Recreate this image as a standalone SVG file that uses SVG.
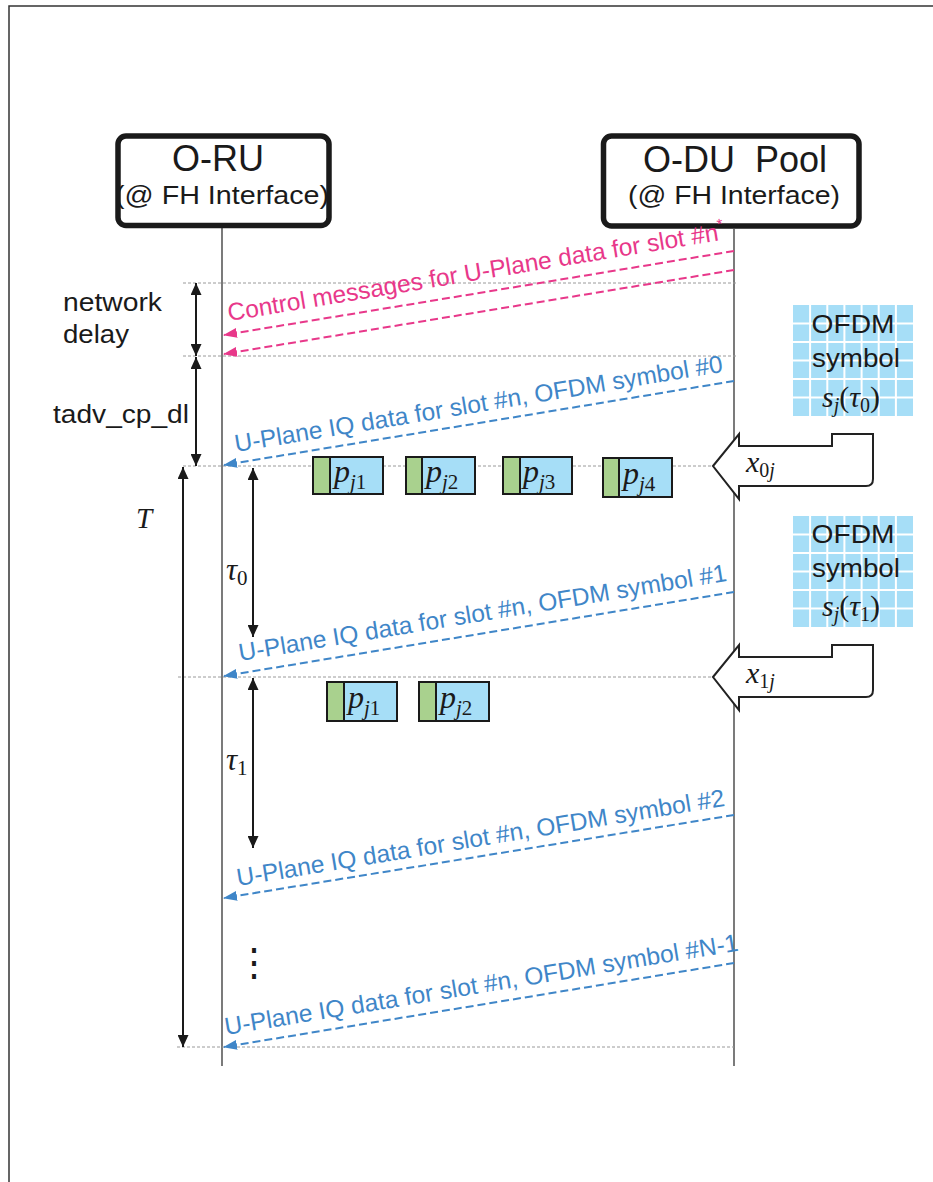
<svg xmlns="http://www.w3.org/2000/svg" width="933" height="1182" viewBox="0 0 933 1182">
<defs>
<style>
.frame{fill:none;stroke:#333;stroke-width:1.5}
.box{fill:#fff;stroke:#1a1a1a;stroke-width:5.5}
.life{stroke:#333;stroke-width:1.3;fill:none}
.grid{stroke:#9a9a9a;stroke-width:1;stroke-dasharray:3 2;fill:none}
.dbl{stroke:#1a1a1a;stroke-width:2;fill:none;marker-start:url(#blk);marker-end:url(#blk)}
.pink{stroke:#E8388A;stroke-width:2;stroke-dasharray:8 4;fill:none;marker-end:url(#pk)}
.blue{stroke:#3F86C8;stroke-width:2;stroke-dasharray:8 4;fill:none;marker-end:url(#bl)}
.sans{font-family:"Liberation Sans",Arial,sans-serif;fill:#1a1a1a}
.math{font-family:"Liberation Serif","Times New Roman",serif;fill:#1a1a1a}
.it{font-style:italic}
.ptext{font-family:"Liberation Sans",Arial,sans-serif;font-size:24.5px;fill:#E8388A}
.btext{font-family:"Liberation Sans",Arial,sans-serif;font-size:24.5px;fill:#3F86C8}
.gr{fill:#A9D18E;stroke:none}
.bk{fill:#A6DEF7;stroke:none}
.pb{fill:none;stroke:#1a1a1a;stroke-width:2}
.ofdm{fill:#A6DEF7}
.gl{stroke:#fff;stroke-width:2;fill:none}
.barrow{fill:#fff;stroke:#222;stroke-width:2;stroke-linejoin:miter}
</style>
<marker id="blk" viewBox="0 0 12 11" refX="12" refY="5.5" markerWidth="12" markerHeight="11" markerUnits="userSpaceOnUse" orient="auto-start-reverse"><path d="M0,0 L12,5.5 L0,11 z" fill="#1a1a1a"/></marker>
<marker id="pk" viewBox="0 0 14 10" refX="13" refY="5" markerWidth="14" markerHeight="10" markerUnits="userSpaceOnUse" orient="auto"><path d="M0,0 L14,5 L0,10 z" fill="#E8388A"/></marker>
<marker id="bl" viewBox="0 0 14 10" refX="13" refY="5" markerWidth="14" markerHeight="10" markerUnits="userSpaceOnUse" orient="auto"><path d="M0,0 L14,5 L0,10 z" fill="#3F86C8"/></marker>
</defs>

<path class="frame" d="M9,1182 L9,6 L933,6"/>

<g id="lifelines">
<line class="life" x1="222" y1="228" x2="222" y2="1066"/>
<line class="life" x1="734" y1="229" x2="734" y2="1066"/>
</g>

<g id="guides">
<line class="grid" x1="183" y1="283" x2="738" y2="283"/>
<line class="grid" x1="183" y1="356" x2="738" y2="356"/>
<line class="grid" x1="183" y1="466" x2="712" y2="466"/>
<line class="grid" x1="178" y1="677" x2="712" y2="677"/>
<line class="grid" x1="177" y1="1047" x2="734" y2="1047"/>
</g>

<g id="oru">
<rect class="box" x="118" y="136" width="211" height="89.5" rx="8"/>
<text class="sans" x="218" y="171" font-size="36" text-anchor="middle">O-RU</text>
<text class="sans" x="222" y="204" font-size="26" text-anchor="middle" textLength="214" lengthAdjust="spacingAndGlyphs">(@ FH Interface)</text>
</g>

<g id="odu">
<rect class="box" x="603.5" y="136" width="255.5" height="90" rx="8"/>
<text class="sans" x="735" y="172" font-size="36" text-anchor="middle" xml:space="preserve">O-DU  Pool</text>
<text class="sans" x="734" y="204" font-size="26" text-anchor="middle" textLength="212" lengthAdjust="spacingAndGlyphs">(@ FH Interface)</text>
</g>

<g id="intervals">
<line class="dbl" x1="196" y1="283" x2="196" y2="356"/>
<line class="dbl" x1="196" y1="357" x2="196" y2="466"/>
<line class="dbl" x1="183" y1="467" x2="183" y2="1047"/>
<line class="dbl" x1="253" y1="468" x2="253" y2="637"/>
<line class="dbl" x1="253" y1="678" x2="253" y2="848"/>
<text class="sans" x="63" y="311" font-size="26" textLength="99" lengthAdjust="spacingAndGlyphs">network</text>
<text class="sans" x="63" y="343" font-size="26" textLength="66" lengthAdjust="spacingAndGlyphs">delay</text>
<text class="sans" x="53" y="423" font-size="26" textLength="136" lengthAdjust="spacingAndGlyphs">tadv_cp_dl</text>
<text class="math it" x="136" y="528" font-size="29">T</text>
<text class="math" x="226" y="580" font-size="31"><tspan class="it">τ</tspan><tspan font-size="21" dy="5">0</tspan></text>
<text class="math" x="226" y="770" font-size="31"><tspan class="it">τ</tspan><tspan font-size="21" dy="5">1</tspan></text>
<text class="sans" x="254" y="976" font-size="38" text-anchor="middle" font-family="DejaVu Sans">⋮</text>
</g>

<g id="connectors">
<line class="pink" x1="734" y1="251" x2="224" y2="335"/>
<line class="pink" x1="734" y1="270" x2="224" y2="354"/>
<text class="ptext" transform="translate(229,321) rotate(-9.35)">Control messages for U-Plane data for slot #n<tspan font-size="15" dy="-11">*</tspan></text>
<line class="blue" x1="734" y1="381" x2="224" y2="465"/>
<text class="btext" transform="translate(236,452) rotate(-9.35)">U-Plane IQ data for slot #n, OFDM symbol #0</text>
<line class="blue" x1="734" y1="592" x2="224" y2="676"/>
<text class="btext" transform="translate(240,661) rotate(-9.35)">U-Plane IQ data for slot #n, OFDM symbol #1</text>
<line class="blue" x1="734" y1="815" x2="224" y2="898"/>
<text class="btext" transform="translate(238,886) rotate(-9.35)">U-Plane IQ data for slot #n, OFDM symbol #2</text>
<line class="blue" x1="734" y1="963" x2="224" y2="1047"/>
<text class="btext" transform="translate(226,1035) rotate(-9.35)">U-Plane IQ data for slot #n, OFDM symbol #N-1</text>
</g>

<g id="ofdm0">
<rect class="ofdm" x="793" y="305" width="120" height="111"/>
<path class="gl" d="M810.1,305V416M827.3,305V416M844.4,305V416M861.6,305V416M878.7,305V416M895.9,305V416M793,323.5H913M793,342H913M793,360.5H913M793,379H913M793,397.5H913"/>
<text class="sans" x="853" y="333" font-size="26" text-anchor="middle" textLength="83" lengthAdjust="spacingAndGlyphs">OFDM</text>
<text class="sans" x="856" y="367" font-size="26" text-anchor="middle" textLength="88" lengthAdjust="spacingAndGlyphs">symbol</text>
<text class="math" x="851" y="407" font-size="30" text-anchor="middle"><tspan class="it">s</tspan><tspan class="it" font-size="20" dy="5">j</tspan><tspan dy="-5">(</tspan><tspan class="it">τ</tspan><tspan font-size="20" dy="5">0</tspan><tspan dy="-5">)</tspan></text>
</g>

<g id="ofdm1">
<rect class="ofdm" x="793" y="516" width="120" height="111"/>
<path class="gl" d="M810.1,516V627M827.3,516V627M844.4,516V627M861.6,516V627M878.7,516V627M895.9,516V627M793,534.5H913M793,553H913M793,571.5H913M793,590H913M793,608.5H913"/>
<text class="sans" x="853" y="543" font-size="26" text-anchor="middle" textLength="83" lengthAdjust="spacingAndGlyphs">OFDM</text>
<text class="sans" x="856" y="577" font-size="26" text-anchor="middle" textLength="88" lengthAdjust="spacingAndGlyphs">symbol</text>
<text class="math" x="851" y="616" font-size="30" text-anchor="middle"><tspan class="it">s</tspan><tspan class="it" font-size="20" dy="5">j</tspan><tspan dy="-5">(</tspan><tspan class="it">τ</tspan><tspan font-size="20" dy="5">1</tspan><tspan dy="-5">)</tspan></text>
</g>

<g id="x0j">
<path class="barrow" d="M713,466 L739,434 L739,446 L832,446 L832,434 L873,434 L873,479 Q873,486 866,486 L739,486 L739,499 Z"/>
<text class="math" x="746" y="472" font-size="30"><tspan class="it">x</tspan><tspan font-size="20" dy="5">0</tspan><tspan class="it" font-size="20">j</tspan></text>
</g>

<g id="x1j">
<path class="barrow" d="M713,677 L739,645 L739,657 L832,657 L832,645 L873,645 L873,690 Q873,697 866,697 L739,697 L739,710 Z"/>
<text class="math" x="746" y="683" font-size="30"><tspan class="it">x</tspan><tspan font-size="20" dy="5">1</tspan><tspan class="it" font-size="20">j</tspan></text>
</g>

<g id="p-row0">
<g id="p0-1"><rect class="gr" x="313" y="457" width="17" height="37"/><rect class="bk" x="330" y="457" width="53" height="37"/><rect class="pb" x="313" y="457" width="70" height="37"/><line class="pb" x1="330" y1="457" x2="330" y2="494"/><text class="math" x="334" y="482" font-size="32"><tspan class="it">p</tspan><tspan class="it" font-size="21" dy="7">j</tspan><tspan font-size="21">1</tspan></text></g>
<g id="p0-2"><rect class="gr" x="406" y="457" width="16" height="37"/><rect class="bk" x="422" y="457" width="53" height="37"/><rect class="pb" x="406" y="457" width="69" height="37"/><line class="pb" x1="422" y1="457" x2="422" y2="494"/><text class="math" x="426" y="482" font-size="32"><tspan class="it">p</tspan><tspan class="it" font-size="21" dy="7">j</tspan><tspan font-size="21">2</tspan></text></g>
<g id="p0-3"><rect class="gr" x="503" y="457" width="17" height="37"/><rect class="bk" x="520" y="457" width="52" height="37"/><rect class="pb" x="503" y="457" width="69" height="37"/><line class="pb" x1="520" y1="457" x2="520" y2="494"/><text class="math" x="523" y="482" font-size="32"><tspan class="it">p</tspan><tspan class="it" font-size="21" dy="7">j</tspan><tspan font-size="21">3</tspan></text></g>
<g id="p0-4"><rect class="gr" x="603" y="458" width="16" height="39"/><rect class="bk" x="619" y="458" width="53" height="39"/><rect class="pb" x="603" y="458" width="69" height="39"/><line class="pb" x1="619" y1="458" x2="619" y2="497"/><text class="math" x="623" y="484" font-size="32"><tspan class="it">p</tspan><tspan class="it" font-size="21" dy="7">j</tspan><tspan font-size="21">4</tspan></text></g>
</g>

<g id="p-row1">
<g id="p1-1"><rect class="gr" x="327" y="682" width="17" height="39"/><rect class="bk" x="344" y="682" width="53" height="39"/><rect class="pb" x="327" y="682" width="70" height="39"/><line class="pb" x1="344" y1="682" x2="344" y2="721"/><text class="math" x="348" y="708" font-size="32"><tspan class="it">p</tspan><tspan class="it" font-size="21" dy="7">j</tspan><tspan font-size="21">1</tspan></text></g>
<g id="p1-2"><rect class="gr" x="419" y="682" width="17" height="39"/><rect class="bk" x="436" y="682" width="53" height="39"/><rect class="pb" x="419" y="682" width="70" height="39"/><line class="pb" x1="436" y1="682" x2="436" y2="721"/><text class="math" x="440" y="708" font-size="32"><tspan class="it">p</tspan><tspan class="it" font-size="21" dy="7">j</tspan><tspan font-size="21">2</tspan></text></g>
</g>
</svg>
